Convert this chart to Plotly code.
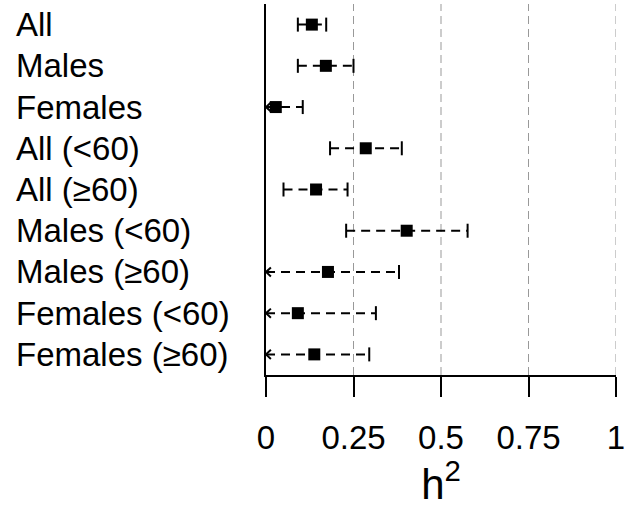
import plotly.graph_objects as go

labels = ["All", "Males", "Females", "All (<60)", "All (≥60)",
          "Males (<60)", "Males (≥60)", "Females (<60)", "Females (≥60)"]
estimate = [0.131, 0.171, 0.028, 0.285, 0.143, 0.402, 0.177, 0.091, 0.138]
lower = [0.091, 0.091, 0.0, 0.183, 0.050, 0.229, 0.0, 0.0, 0.0]
upper = [0.172, 0.250, 0.105, 0.388, 0.233, 0.576, 0.380, 0.314, 0.295]
truncated = [False, False, True, False, False, False, True, True, True]
tick_vals = [0, 0.25, 0.5, 0.75, 1]
tick_text = ["0", "0.25", "0.5", "0.75", "1"]

rows = list(range(len(labels)))
FONT = "Liberation Sans, Arial, Helvetica, sans-serif"

fig = go.Figure()

# dashed interval lines
lx, ly = [], []
for r, lo, hi in zip(rows, lower, upper):
    lx += [lo, hi, None]
    ly += [r, r, None]
fig.add_trace(go.Scatter(x=lx, y=ly, mode="lines",
                         line=dict(color="black", width=2, dash="9px,6px"),
                         hoverinfo="skip", showlegend=False, cliponaxis=False))

# caps (non-truncated ends)
cx, cy = [], []
for r, lo, hi, t in zip(rows, lower, upper, truncated):
    if not t:
        cx.append(lo); cy.append(r)
    cx.append(hi); cy.append(r)
fig.add_trace(go.Scatter(x=cx, y=cy, mode="markers",
                         marker=dict(symbol="line-ns", size=10,
                                     line=dict(color="black", width=2)),
                         hoverinfo="skip", showlegend=False, cliponaxis=False))

# open arrowheads for truncated lower bounds
ax, ay = [], []
dx, dy = 0.014, 0.11
for r, lo, t in zip(rows, lower, truncated):
    if t:
        ax += [lo + dx, lo, lo + dx, None]
        ay += [r - dy, r, r + dy, None]
fig.add_trace(go.Scatter(x=ax, y=ay, mode="lines",
                         line=dict(color="black", width=2),
                         hoverinfo="skip", showlegend=False, cliponaxis=False))

# point estimates
fig.add_trace(go.Scatter(x=estimate, y=rows, mode="markers",
                         marker=dict(symbol="square", size=12, color="black"),
                         showlegend=False, cliponaxis=False))

# dashed grid lines
for v in tick_vals[1:]:
    fig.add_shape(type="line", xref="x", yref="paper", x0=v, x1=v, y0=0, y1=1,
                  line=dict(color="#999999", width=1, dash="8px,5px"), layer="below")

# row labels
L, R = 266, 16
plot_w = 632 - L - R
for r, lab in zip(rows, labels):
    fig.add_annotation(x=(14 - L) / plot_w, xref="paper", y=r, yref="y",
                       text=lab, showarrow=False, xanchor="left", yanchor="middle",
                       font=dict(family=FONT, size=33, color="black"))

fig.update_layout(
    width=632, height=508,
    margin=dict(l=L, r=R, t=4, b=133),
    paper_bgcolor="white", plot_bgcolor="white",
    xaxis=dict(range=[0, 1], tickvals=tick_vals, ticktext=tick_text,
               ticks="outside", ticklen=20, tickwidth=2, tickcolor="black",
               showline=True, linewidth=2, linecolor="black",
               showgrid=False, zeroline=False, ticklabelstandoff=12,
               tickfont=dict(family=FONT, size=33, color="black"),
               title=dict(text="h<sup>2</sup>", standoff=9,
                          font=dict(family=FONT, size=42, color="black"))),
    yaxis=dict(range=[8.5, -0.5], showticklabels=False, ticks="",
               showline=True, linewidth=2, linecolor="black",
               showgrid=False, zeroline=False),
)

fig.write_html("out.html", config={"displayModeBar": False},
               post_script="document.body.style.margin='0';document.body.style.padding='0';")
